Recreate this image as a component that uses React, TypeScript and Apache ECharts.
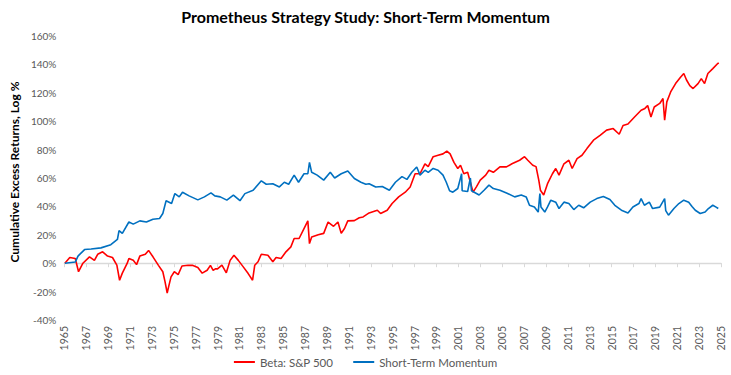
import React, { useEffect, useRef } from "react";
import * as echarts from "echarts";

const TITLE = "Prometheus Strategy Study: Short-Term Momentum";
const Y_AXIS_NAME = "Cumulative Excess Returns, Log %";
const SERIES_NAMES = ["Beta: S&P 500", "Short-Term Momentum"];
const START_YEAR = 1965;
const END_YEAR = 2025;
const Y_MIN = -40;
const Y_MAX = 160;

// [year, cumulative excess return %]
const sp500: [number, number][] = [
  [1965.05, 0], [1965.5, 4], [1966.0, 3.3], [1966.3, -6], [1966.7, 0], [1967.3, 4.5],
  [1967.75, 2], [1968.05, 6.3], [1968.5, 8], [1968.95, 5], [1969.4, 4], [1969.8, -1.4],
  [1970.05, -12], [1970.3, -7], [1970.75, 0], [1970.9, 3.3], [1971.3, 2], [1971.6, -1],
  [1971.9, 5], [1972.4, 6.3], [1972.7, 9], [1973.1, 4.5], [1973.6, -1.5], [1974.0, -6],
  [1974.2, -13], [1974.4, -21], [1974.55, -16], [1974.75, -9.6], [1975.05, -6], [1975.4, -8],
  [1975.75, -2], [1976.3, -1.5], [1976.7, -1.5], [1977.2, -3], [1977.6, -7], [1978.05, -5],
  [1978.35, -1.5], [1978.6, -5], [1978.8, -4], [1979.0, -4], [1979.4, -1.4], [1979.8, -6.8],
  [1980.15, 2], [1980.5, 5.6], [1980.9, 2], [1981.35, -2.6], [1981.8, -7.3], [1982.2, -12],
  [1982.4, -1.4], [1982.7, 1], [1983.0, 6.3], [1983.6, 5.6], [1984.05, 1], [1984.35, 4],
  [1984.8, 3.3], [1985.25, 8], [1985.7, 11.5], [1986.0, 17.4], [1986.45, 17.4], [1986.9, 24.4],
  [1987.25, 29.8], [1987.4, 13.8], [1987.6, 18.5], [1988.2, 20], [1988.7, 21], [1989.1, 29],
  [1989.6, 26], [1990.0, 29], [1990.3, 21], [1990.6, 24.4], [1990.9, 29.8], [1991.5, 30],
  [1991.95, 32], [1992.3, 32.6], [1992.85, 35.4], [1993.6, 37.3], [1993.9, 35], [1994.5, 37.3],
  [1994.95, 42], [1995.55, 46.7], [1996.15, 50], [1996.6, 53.7], [1997.05, 63], [1997.5, 63],
  [1997.95, 70], [1998.25, 68], [1998.7, 75], [1999.15, 76], [1999.6, 77], [1999.95, 79],
  [2000.25, 77], [2000.6, 71], [2000.95, 66.7], [2001.2, 69], [2001.5, 63], [2001.85, 64],
  [2002.1, 57], [2002.35, 50], [2002.65, 53.7], [2003.0, 58.5], [2003.5, 62], [2003.8, 65.5],
  [2004.2, 64], [2004.8, 67.8], [2005.4, 67.8], [2005.9, 70], [2006.6, 72.5], [2007.05, 75],
  [2007.35, 72.5], [2007.8, 69], [2008.1, 68], [2008.35, 58.5], [2008.5, 51.4], [2008.8, 48],
  [2009.15, 56], [2009.6, 63], [2009.9, 66.7], [2010.2, 62], [2010.65, 70], [2011.1, 72.5],
  [2011.4, 66.7], [2011.85, 73.7], [2012.3, 76], [2012.75, 80.7], [2013.35, 86.6], [2013.95, 90],
  [2014.55, 93.7], [2015.15, 94.8], [2015.7, 90.8], [2016.05, 97], [2016.5, 98], [2017.1, 103],
  [2017.7, 107.7], [2018.05, 109], [2018.3, 111], [2018.6, 103], [2018.9, 110], [2019.4, 112.5],
  [2019.7, 116], [2019.85, 100.7], [2020.05, 113.6], [2020.4, 120.6], [2020.85, 126.5], [2021.3, 131],
  [2021.6, 133.6], [2021.85, 129], [2022.15, 125], [2022.45, 123], [2022.9, 126.5], [2023.2, 130],
  [2023.5, 126.5], [2023.8, 133.6], [2024.25, 137], [2024.7, 140.6], [2024.8, 141],
];

const momentum: [number, number][] = [
  [1965.05, 0], [1966.0, 0.8], [1966.25, 5], [1966.85, 9.6], [1967.45, 10], [1968.35, 10.8],
  [1969.25, 13], [1969.85, 16.7], [1970.0, 23], [1970.3, 21], [1970.9, 29], [1971.3, 27.5],
  [1971.9, 29.8], [1972.5, 29], [1973.1, 31], [1973.7, 31.5], [1974.0, 35], [1974.3, 44],
  [1974.8, 42], [1975.1, 49], [1975.5, 46.7], [1975.8, 50], [1976.4, 47.4], [1977.2, 44.6],
  [1977.8, 46.7], [1978.4, 49.5], [1978.75, 47.4], [1979.25, 46.7], [1979.85, 44.4], [1980.45, 48],
  [1981.05, 44], [1981.5, 49], [1982.25, 51.4], [1983.0, 58], [1983.45, 55.6], [1984.05, 56],
  [1984.65, 53.7], [1985.1, 57], [1985.5, 55.6], [1986.0, 62], [1986.4, 57], [1986.9, 63],
  [1987.25, 63], [1987.4, 71], [1987.6, 64], [1988.1, 62], [1988.7, 58.5], [1989.3, 64],
  [1989.7, 60], [1990.3, 63], [1990.9, 65], [1991.5, 59.6], [1992.1, 57], [1992.55, 55.6],
  [1992.85, 56], [1993.45, 53.7], [1994.05, 54], [1994.7, 51.4], [1995.25, 57], [1995.85, 61],
  [1996.3, 59], [1996.75, 64], [1997.2, 67.8], [1997.5, 62], [1997.95, 65.5], [1998.25, 64],
  [1998.7, 66.7], [1999.15, 65.5], [1999.6, 62], [1999.9, 57], [2000.2, 51], [2000.5, 50],
  [2000.95, 52.6], [2001.3, 63], [2001.35, 51], [2001.85, 50.5], [2002.1, 60], [2002.2, 51],
  [2002.45, 50], [2002.9, 48], [2003.35, 51.4], [2003.8, 55], [2004.2, 52.6], [2004.8, 51.4],
  [2005.4, 49.5], [2006.15, 46.7], [2006.75, 48], [2007.2, 46.7], [2007.5, 40.8], [2007.95, 39.6],
  [2008.3, 36], [2008.45, 49], [2008.55, 39.6], [2008.9, 36], [2009.15, 39.6], [2009.45, 44.4],
  [2009.9, 43], [2010.2, 38.5], [2010.65, 43], [2011.1, 42], [2011.55, 37.8], [2012.0, 40.8],
  [2012.45, 39], [2013.05, 43], [2013.65, 45.5], [2014.25, 47], [2014.85, 44.8], [2015.3, 40.8],
  [2015.9, 37.3], [2016.5, 35.4], [2016.95, 39.6], [2017.5, 42], [2017.7, 45.5], [2018.0, 40.8],
  [2018.45, 43], [2018.75, 38.5], [2019.4, 39.5], [2019.85, 45.5], [2019.95, 37], [2020.2, 33.8],
  [2020.7, 38.5], [2021.15, 42], [2021.6, 44.4], [2022.05, 43], [2022.35, 40], [2022.65, 37.3],
  [2023.1, 35], [2023.55, 36], [2023.85, 38.5], [2024.25, 40.8], [2024.55, 39.5], [2024.75, 38.5],
];

const COLORS = ["#FF0000", "#0070C0"];

export default function App() {
  const ref = useRef<HTMLDivElement>(null);
  useEffect(() => {
    document.body.style.margin = "0";
    const chart = echarts.init(ref.current as HTMLDivElement, null, { renderer: "svg" });
    const toX = (d: [number, number][]) => d.map(([y, v]) => [y - START_YEAR, v]);
    const span = END_YEAR - START_YEAR;
    chart.setOption({
      animation: false,
      backgroundColor: "#ffffff",
      textStyle: { fontFamily: "Lato" },
      title: {
        text: TITLE,
        left: "center",
        top: 3,
        textStyle: { fontFamily: "Lato", fontSize: 16, fontWeight: "bold", color: "#000000" },
      },
      legend: {
        data: SERIES_NAMES,
        bottom: 2,
        left: "center",
        icon: "rect",
        itemWidth: 21,
        itemHeight: 2,
        itemGap: 20,
        textStyle: { fontFamily: "Lato", color: "#595959", fontSize: 11.5 },
      },
      grid: { left: 51, right: 10, top: 36, bottom: 55 },
      xAxis: [
        {
          type: "value",
          min: 0,
          max: span,
          interval: 2,
          position: "bottom",
          axisLine: { show: false, onZero: false },
          axisTick: { show: false },
          splitLine: { show: false },
          axisLabel: {
            rotate: 90,
            margin: 6,
            fontSize: 10.5,
            color: "#595959",
            formatter: (v: number) => String(v + START_YEAR),
          },
        },
        {
          type: "value",
          min: 0,
          max: span,
          interval: 2,
          position: "bottom",
          axisLine: { show: true, onZero: true, lineStyle: { color: "#D9D9D9", width: 1.3 } },
          axisTick: { show: true, length: 4, lineStyle: { color: "#D9D9D9" } },
          axisLabel: { show: false },
          splitLine: { show: false },
        },
      ],
      yAxis: {
        type: "value",
        min: Y_MIN,
        max: Y_MAX,
        interval: 20,
        axisLine: { show: false },
        axisTick: { show: false },
        splitLine: { show: false },
        axisLabel: { formatter: "{value}%", color: "#595959", fontSize: 10, margin: 8 },
        name: Y_AXIS_NAME,
        nameLocation: "middle",
        nameGap: 39,
        nameTextStyle: { fontFamily: "Lato", fontWeight: "bold", fontSize: 12, color: "#000000", padding: [0, 0, 0, 12] },
      },
      series: [
        {
          name: SERIES_NAMES[0],
          type: "line",
          xAxisIndex: 0,
          showSymbol: false,
          data: toX(sp500),
          lineStyle: { color: COLORS[0], width: 1.6 },
          itemStyle: { color: COLORS[0] },
        },
        {
          name: SERIES_NAMES[1],
          type: "line",
          xAxisIndex: 0,
          showSymbol: false,
          data: toX(momentum),
          lineStyle: { color: COLORS[1], width: 1.6 },
          itemStyle: { color: COLORS[1] },
        },
      ],
    });
    return () => chart.dispose();
  }, []);
  return <div ref={ref} style={{ width: 731, height: 375 }} />;
}
